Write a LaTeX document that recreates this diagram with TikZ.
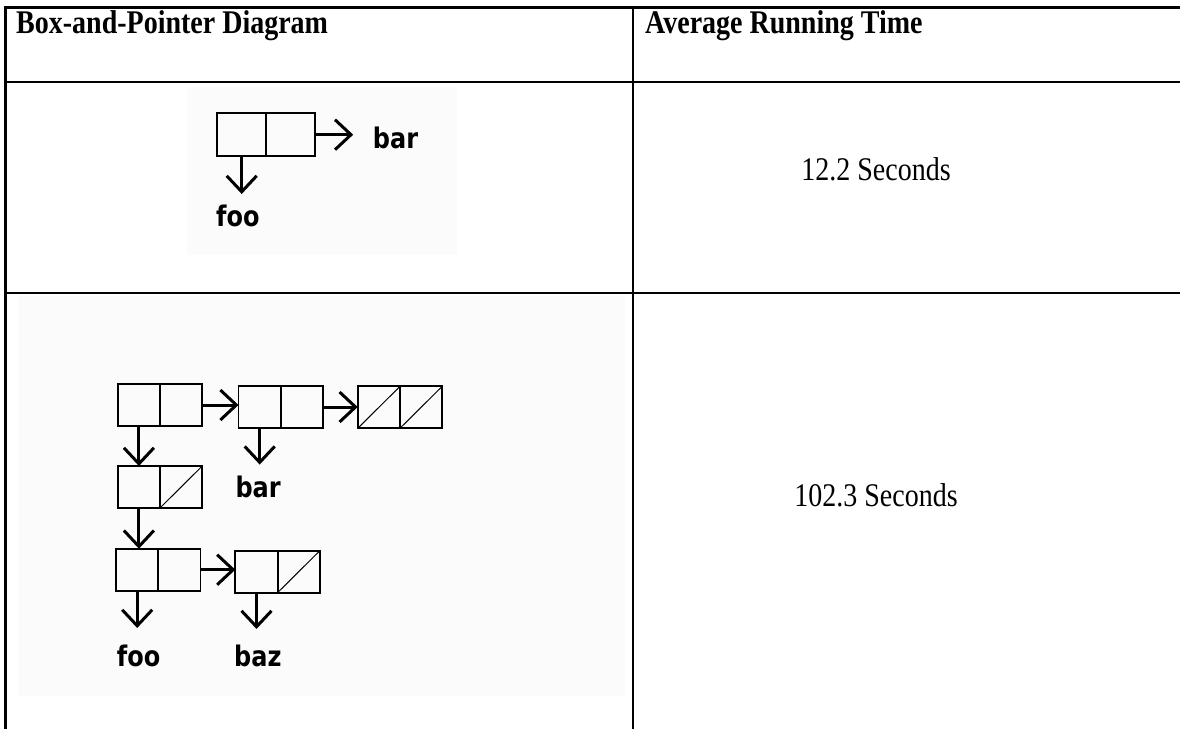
\documentclass[tikz,border=0pt]{standalone}
\usepackage{fontspec}
\setmainfont{Liberation Serif}
\newfontfamily\labelfont{DejaVu Sans}
\usetikzlibrary{arrows.meta}
\definecolor{imgbg}{HTML}{FBFBFB}
\newcommand\vstretch[1]{\scalebox{1}[1.18]{#1}}
\tikzset{
 rule/.style={line width=2.2pt},
 cell/.style={draw, line width=1.8pt, minimum width=42.3pt, minimum height=42pt, inner sep=0pt, outer sep=0pt},
 bigcell/.style={cell, minimum width=48.8pt, minimum height=42.7pt},
 nilcell/.style={cell, path picture={\draw[line width=1pt] (path picture bounding box.south west) -- (path picture bounding box.north east);}},
 ptr/.style={line width=3pt, -{Straight Barb[length=16pt,width=30pt]}},
 lbl/.style={inner sep=0pt, anchor=base west, font=\labelfont\bfseries\fontsize{24}{24}\selectfont},
 head/.style={inner sep=0pt, anchor=base west, font=\bfseries\fontsize{28}{28}\selectfont},
 val/.style={inner sep=0pt, anchor=base, font=\fontsize{28}{28}\selectfont},
}
\begin{document}
\begin{tikzpicture}[x=1pt,y=-1pt]
\useasboundingbox[fill=white] (0,0) rectangle (1180,729);
% image backgrounds
\fill[imgbg] (187,87) rectangle (457,255);
\fill[imgbg] (18,296) rectangle (625,696);
% table rules
\draw[rule] (5,7.5) -- (1180,7.5);
\draw[rule] (5,82) -- (1180,82);
\draw[rule] (5,293) -- (1180,293);
\draw[rule] (5.5,6.4) -- (5.5,729);
\draw[rule] (633,6.4) -- (633,729);
% headers and values
\node[head] (h1) at (16,33) {\vstretch{Box-and-Pointer Diagram}};
\node[head] (h2) at (645,33) {\vstretch{Average Running Time}};
\node[val] (t1) at (876,180) {\vstretch{12.2 Seconds}};
\node[val] (t2) at (876,506) {\vstretch{102.3 Seconds}};
% row 1 diagram
\node[bigcell] (r1a) at (241.7,134.7) {};
\node[bigcell] (r1b) at (290.5,134.7) {};
\node[lbl] (bar1) at (372.7,148) {\vstretch{bar}};
\node[lbl] (foo1) at (216,226.7) {\vstretch{foo}};
\draw[ptr, shorten >=19.5pt] (r1b.east) -- (r1b.east -| bar1.west);
\draw[ptr, shorten >=11pt] (r1a.south) -- (r1a.south |- foo1.north);
% row 2 diagram
\node[cell] (A1) at (138.9,405) {};
\node[cell] (A2) at (181.1,405) {};
\node[cell] (B1) at (259.7,407) {};
\node[cell] (B2) at (301.7,407) {};
\node[nilcell] (C1) at (378.9,407.3) {};
\node[nilcell] (C2) at (421.1,407.3) {};
\node[cell] (D1) at (138.9,487) {};
\node[nilcell] (D2) at (181.1,487) {};
\node[cell] (E1) at (137.2,569.7) {};
\node[cell] (E2) at (179.4,569.7) {};
\node[cell] (F1) at (256.5,571.7) {};
\node[nilcell] (F2) at (298.7,571.7) {};
\node[lbl] (bar2) at (235.3,497.3) {\vstretch{bar}};
\node[lbl] (foo2) at (116.7,666.7) {\vstretch{foo}};
\node[lbl] (baz) at (234,666.7) {\vstretch{baz}};
\draw[ptr] (A2.east) -- (A2.east -| B1.west);
\draw[ptr] (B2.east) -- (B2.east -| C1.west);
\draw[ptr] (A1.south) -- (A1.south |- D1.north);
\draw[ptr, shorten >=11pt] (B1.south) -- (B1.south |- bar2.north);
\draw[ptr] (D1.south) -- (D1.south |- E1.north);
\draw[ptr] (E2.east) -- (E2.east -| F1.west);
\draw[ptr, shorten >=17pt] (E1.south) -- (E1.south |- foo2.north);
\draw[ptr, shorten >=16pt] (F1.south) -- (F1.south |- baz.north);
\end{tikzpicture}
\end{document}
